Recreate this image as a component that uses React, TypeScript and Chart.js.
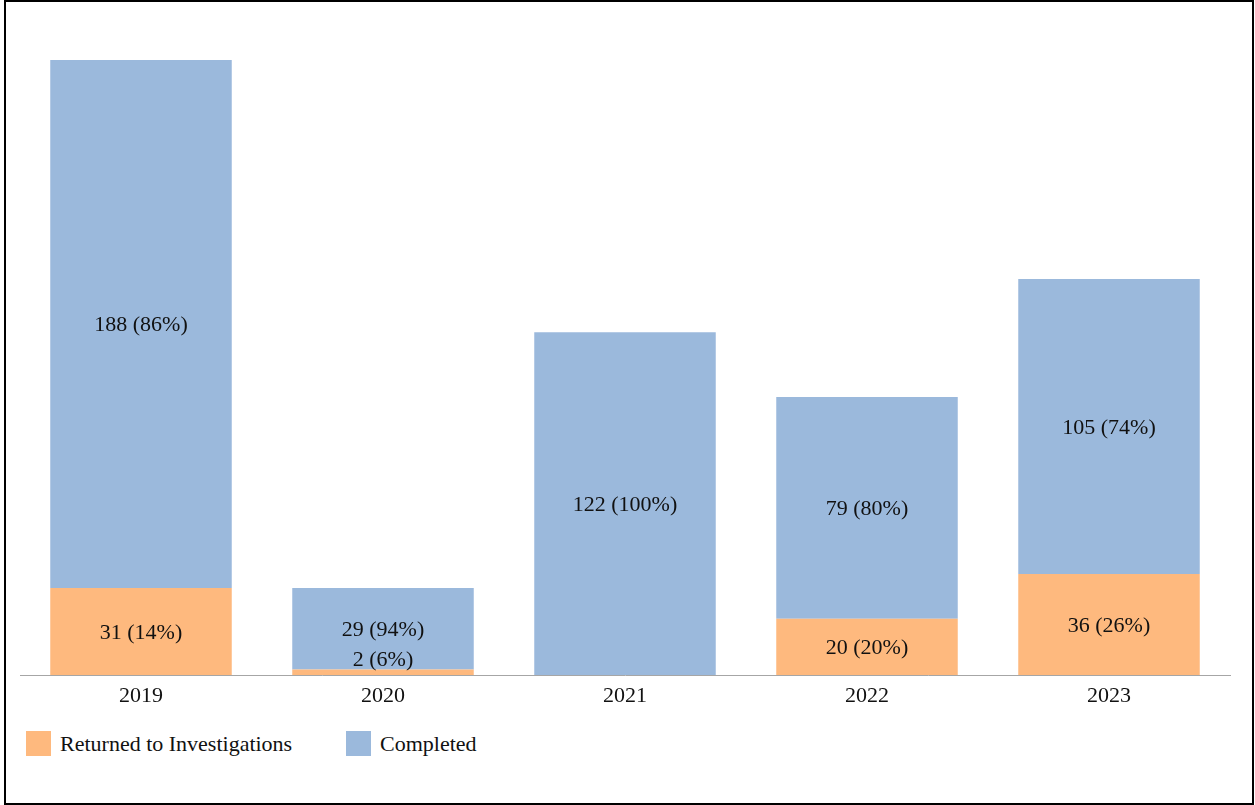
import React, { useEffect, useRef } from "react";
import { Chart, registerables } from "chart.js";

Chart.register(...registerables);

const years = ["2019", "2020", "2021", "2022", "2023"];
const returnedValues = [31, 2, 0, 20, 36];
const completedValues = [188, 29, 122, 79, 105];
const seriesNames = ["Returned to Investigations", "Completed"];
const seriesColors = ["#FEB97E", "#9BB9DC"];

const FONT = "'Liberation Serif', 'Times New Roman', serif";
const FONT_SIZE = 22;

const labelPlugin = {
  id: "segLabels",
  afterDatasetsDraw(chart: any) {
    const ctx = chart.ctx;
    ctx.save();
    ctx.font = `${FONT_SIZE}px ${FONT}`;
    ctx.fillStyle = "#111111";
    ctx.textAlign = "center";
    ctx.textBaseline = "middle";
    chart.data.datasets.forEach((ds: any, di: number) => {
      const meta = chart.getDatasetMeta(di);
      meta.data.forEach((el: any, i: number) => {
        const v = ds.data[i];
        if (!v) return;
        const total = returnedValues[i] + completedValues[i];
        const pct = Math.round((v / total) * 100);
        const text = `${v} (${pct}%)`;
        const top = Math.min(el.y, el.base);
        const bottom = Math.max(el.y, el.base);
        let cy = (top + bottom) / 2 + 1.5;
        if (bottom - top < 24) cy = top - 9;
        ctx.fillText(text, el.x, cy);
      });
    });
    ctx.restore();
  },
};

export default function App() {
  const ref = useRef<HTMLCanvasElement | null>(null);
  useEffect(() => {
    if (!ref.current) return;
    const chart = new Chart(ref.current, {
      type: "bar",
      data: {
        labels: years,
        datasets: [
          {
            label: seriesNames[0],
            data: returnedValues,
            backgroundColor: seriesColors[0],
            borderWidth: 0,
            barPercentage: 0.75,
            categoryPercentage: 1,
          },
          {
            label: seriesNames[1],
            data: completedValues,
            backgroundColor: seriesColors[1],
            borderWidth: 0,
            barPercentage: 0.75,
            categoryPercentage: 1,
          },
        ],
      },
      options: {
        animation: false,
        responsive: false,
        maintainAspectRatio: false,
        layout: { padding: { left: 20, right: 25, top: 29, bottom: 5 } },
        plugins: {
          legend: { display: false },
          tooltip: { enabled: false },
        },
        scales: {
          x: {
            stacked: true,
            grid: { display: false, drawTicks: false },
            border: { display: true, color: "#A6A6A6", width: 1 },
            ticks: {
              color: "#111111",
              font: { family: FONT, size: FONT_SIZE },
              padding: 8,
            },
            afterFit: (scale: any) => {
              scale.height = 40;
            },
          },
          y: {
            stacked: true,
            display: false,
            min: 0,
            max: 230,
          },
        },
      },
      plugins: [labelPlugin],
    });
    return () => chart.destroy();
  }, []);

  const legendText: React.CSSProperties = {
    position: "absolute",
    top: 731,
    height: 25,
    lineHeight: "25px",
    fontFamily: FONT,
    fontSize: FONT_SIZE,
    color: "#111111",
    whiteSpace: "nowrap",
  };

  return (
    <div
      style={{
        position: "absolute",
        left: 0,
        top: 0,
        width: 1255,
        height: 805,
        background: "#ffffff",
        overflow: "hidden",
      }}
    >
      <canvas
        ref={ref}
        width={1255}
        height={720}
        style={{ position: "absolute", left: 0, top: 0, width: 1255, height: 720 }}
      />
      <div style={{ position: "absolute", left: 26, top: 731, width: 25, height: 25, background: seriesColors[0] }} />
      <div style={{ ...legendText, left: 60 }}>{seriesNames[0]}</div>
      <div style={{ position: "absolute", left: 346, top: 731, width: 25, height: 25, background: seriesColors[1] }} />
      <div style={{ ...legendText, left: 380 }}>{seriesNames[1]}</div>
      <div
        style={{
          position: "absolute",
          left: 4,
          top: 0,
          width: 1250,
          height: 805,
          boxSizing: "border-box",
          border: "2px solid #000000",
          pointerEvents: "none",
        }}
      />
    </div>
  );
}
